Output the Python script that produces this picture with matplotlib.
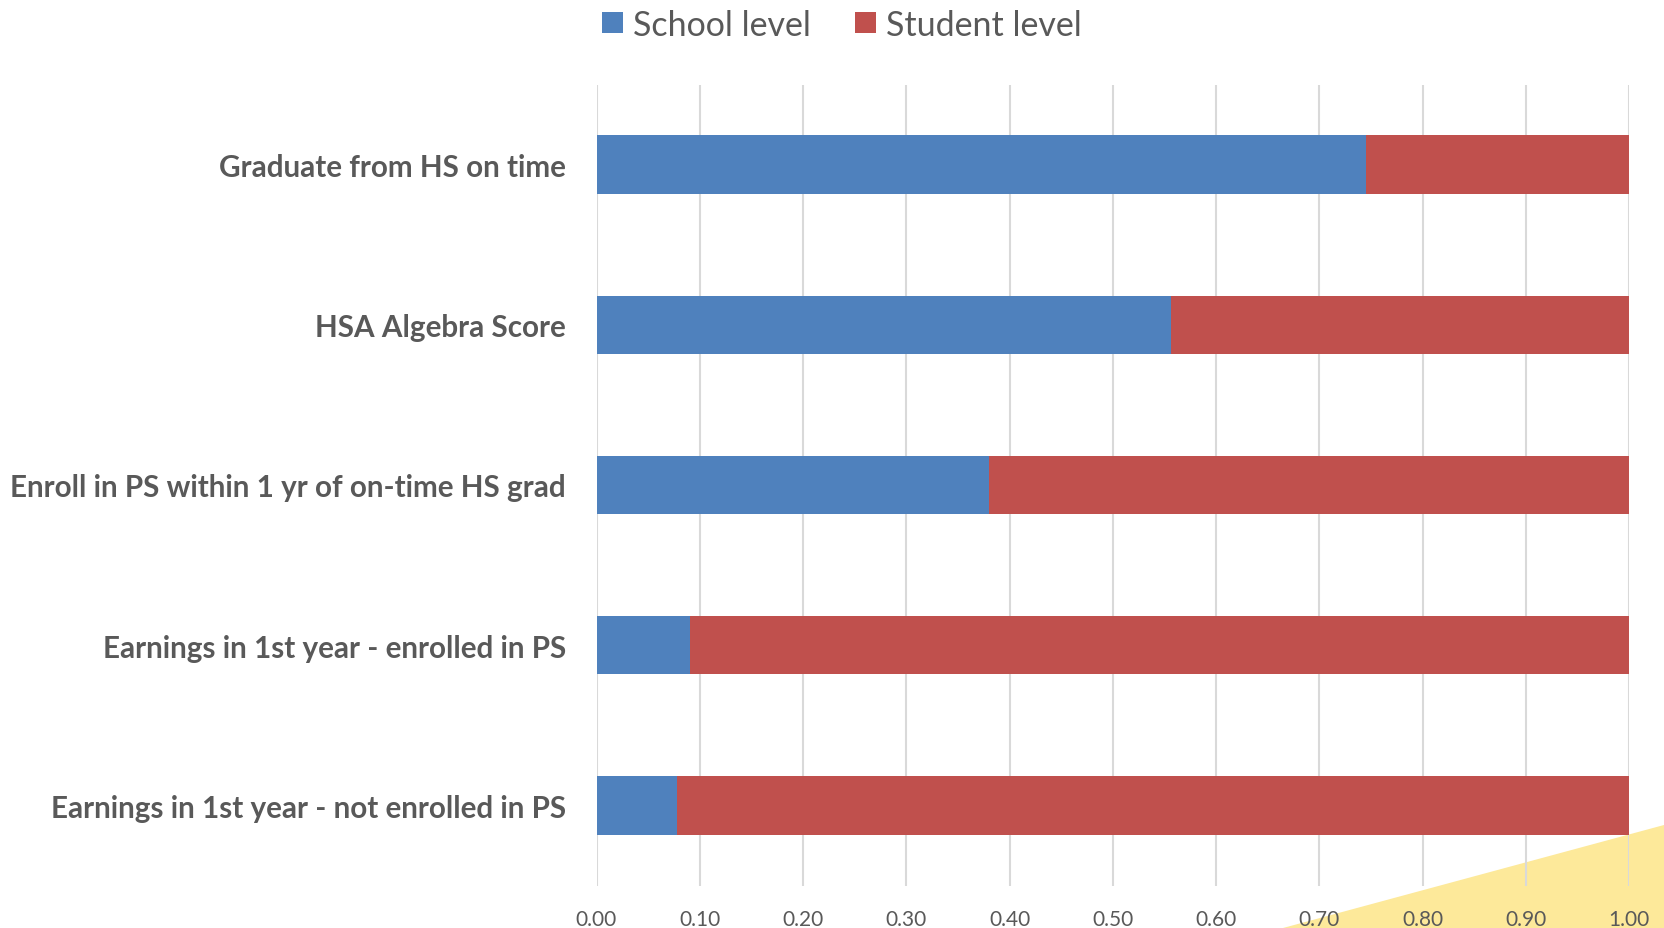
import matplotlib
matplotlib.use("Agg")
import matplotlib.pyplot as plt
from matplotlib.patches import Polygon
import numpy as np

categories = [
    "Graduate from HS on time",
    "HSA Algebra Score",
    "Enroll in PS within 1 yr of on-time HS grad",
    "Earnings in 1st year - enrolled in PS",
    "Earnings in 1st year - not enrolled in PS",
]
school_level = [0.745, 0.556, 0.380, 0.091, 0.078]
student_level = [1 - v for v in school_level]
xticks = [0.0, 0.1, 0.2, 0.3, 0.4, 0.5, 0.6, 0.7, 0.8, 0.9, 1.0]
series_names = ["School level", "Student level"]

plt.rcParams['font.family'] = ['Lato', 'DejaVu Sans']

W, H = 1664, 929
fig = plt.figure(figsize=(W / 100, H / 100), dpi=100)
fig.patch.set_facecolor('white')

# decorative yellow corner
tri = Polygon([[1283 / W, 0], [1.0, (H - 826) / H], [1.0, 0]], closed=True,
              transform=fig.transFigure, facecolor='#FDE99A', edgecolor='none', zorder=-10)
fig.patches.append(tri)

ax = fig.add_axes([596.5 / W, 1 - 886.5 / H, (1629 - 596.5) / W, (886.5 - 85.5) / H])
ax.set_facecolor('none')

y = np.arange(len(categories))
bh = 0.364
ax.barh(y, school_level, height=bh, color='#4F81BD', label=series_names[0], zorder=3)
ax.barh(y, student_level, left=school_level, height=bh, color='#C0504D', label=series_names[1], zorder=3)

ax.set_ylim(len(categories) - 0.5, -0.5)
ax.set_xlim(0, 1.0)
ax.set_xticks(xticks)
ax.set_xticklabels([f"{v:.2f}" for v in xticks])
ax.set_yticks(y)
ax.set_yticklabels(categories, fontweight='bold')
ax.tick_params(axis='y', length=0, pad=22, labelsize=21.3, labelcolor='#595959')
ax.tick_params(axis='x', length=0, pad=17, labelsize=15, labelcolor='#595959')
for s in ax.spines.values():
    s.set_visible(False)
ax.grid(axis='x', color='#D9D9D9', linewidth=1.5, zorder=0)
ax.set_axisbelow(True)

fig.legend(loc='center', bbox_to_anchor=(842 / W, 1 - 25.5 / H), ncol=2, frameon=False,
           fontsize=24.5, labelcolor='#595959', handlelength=0.6, handleheight=0.6,
           handletextpad=0.3, columnspacing=1.3)

fig.savefig("out.png", dpi=100)
